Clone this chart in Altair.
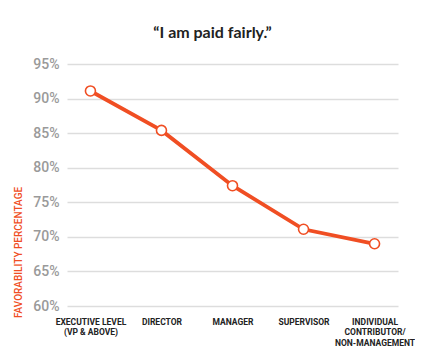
import altair as alt
import pandas as pd

levels = ["EXECUTIVE LEVEL|(VP & ABOVE)", "DIRECTOR", "MANAGER", "SUPERVISOR",
          "INDIVIDUAL|CONTRIBUTOR/|NON-MANAGEMENT"]
favorability = [91.1, 85.4, 77.4, 71.1, 69.0]
y_ticks = [60, 65, 70, 75, 80, 85, 90, 95]

df = pd.DataFrame({"level": levels, "fav": favorability})

ORANGE = "#F04E23"
COND = "Roboto"

x = alt.X("level:N", sort=levels, title=None,
          scale=alt.Scale(type="point", padding=0.33),
          axis=alt.Axis(labelExpr="split(datum.label, '|')", labelAngle=0,
                        labelFont=COND, labelFontWeight="bold", labelFontSize=8.5,
                        labelColor="#222", labelPadding=11, labelLineHeight=10.5,
                        labelAlign="center", labelOverlap=False, labelBound=False,
                        ticks=False, domain=False, grid=False, labelBaseline="top"))
y = alt.Y("fav:Q", title="FAVORABILITY PERCENTAGE",
          scale=alt.Scale(domain=[60, 95], nice=False, zero=False),
          axis=alt.Axis(values=y_ticks, labelExpr="datum.value + '%'",
                        labelFont=COND, labelFontSize=14, labelFontWeight=500,
                        labelColor="#9a9a9a",
                        labelPadding=8, ticks=False, domain=False,
                        grid=True, gridColor="#dddddd", gridWidth=1.5,
                        titleFont=COND, titleFontSize=10, titleColor=ORANGE,
                        titleFontWeight=500, titleX=-49, titleY=188,
                        titleAlign="center", titleBaseline="middle", titleAngle=270))

line = alt.Chart(df).mark_line(color=ORANGE, strokeWidth=3.8).encode(x=x, y=y)
pts = alt.Chart(df).mark_point(shape="circle", size=100, filled=True, fill="white",
                               stroke=ORANGE, strokeWidth=1.6, opacity=1).encode(x=x, y=y)

chart = (line + pts).properties(
    width=331, height=242,
    background="white",
    title=alt.TitleParams("\u201cI am paid fairly.\u201d", font="Lato", fontSize=16,
                          fontWeight="bold", color="#222", dx=-20, offset=16),
    autosize=alt.AutoSizeParams(type="none"),
    padding={"left": 59, "top": 56, "right": 17, "bottom": 40},
).configure_view(stroke=None)

chart.save("out.html", embed_options={"renderer": "svg", "actions": False})
